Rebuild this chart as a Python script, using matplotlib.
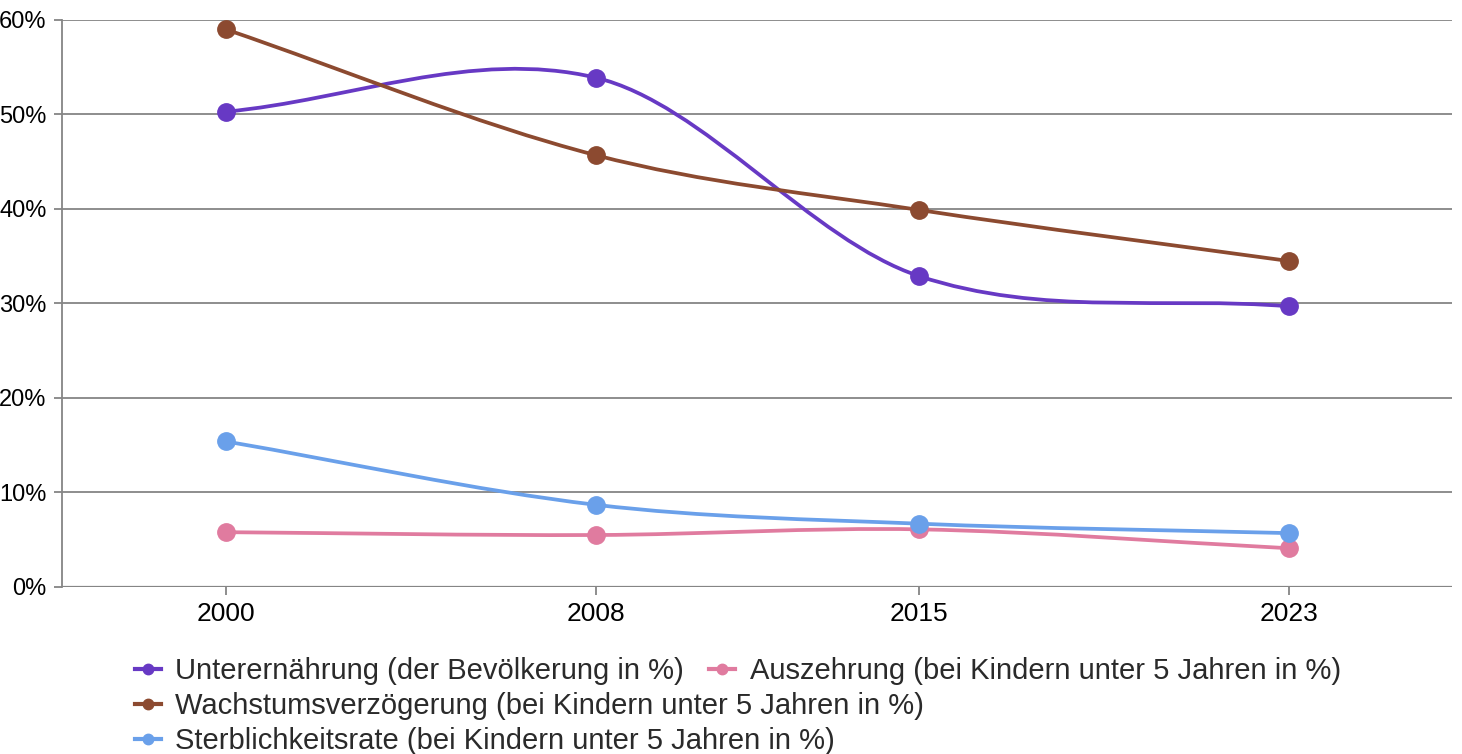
import matplotlib
matplotlib.use("Agg")
import matplotlib.pyplot as plt
import numpy as np
from matplotlib.path import Path
from matplotlib.patches import PathPatch
from matplotlib.lines import Line2D
from matplotlib.ticker import PercentFormatter

years = [2000, 2008, 2015, 2023]
unterernaehrung = [50.3, 53.9, 32.9, 29.7]
wachstum = [59.0, 45.7, 39.9, 34.5]
auszehrung = [5.8, 5.5, 6.1, 4.1]
sterblichkeit = [15.4, 8.7, 6.7, 5.7]

labels = [
    "Unterernährung (der Bevölkerung in %)",
    "Wachstumsverzögerung (bei Kindern unter 5 Jahren in %)",
    "Auszehrung (bei Kindern unter 5 Jahren in %)",
    "Sterblichkeitsrate (bei Kindern unter 5 Jahren in %)",
]
series = [unterernaehrung, wachstum, auszehrung, sterblichkeit]
colors = ["#6739c4", "#8c4a30", "#e07b9f", "#6aa0ea"]

plt.rcParams["font.family"] = ["Liberation Sans", "DejaVu Sans"]


def smooth_path(x, y):
    # cubic bezier through the points, tangents from neighbours
    x = np.asarray(x, float)
    y = np.asarray(y, float)
    n = len(x)
    m = np.zeros(n)
    for i in range(n):
        if i == 0:
            m[i] = (y[1] - y[0]) / (x[1] - x[0])
        elif i == n - 1:
            m[i] = (y[-1] - y[-2]) / (x[-1] - x[-2])
        else:
            m[i] = (y[i + 1] - y[i - 1]) / (x[i + 1] - x[i - 1])
    verts = [(x[0], y[0])]
    codes = [Path.MOVETO]
    for i in range(n - 1):
        dx = (x[i + 1] - x[i]) / 3
        verts += [(x[i] + dx, y[i] + m[i] * dx),
                  (x[i + 1] - dx, y[i + 1] - m[i + 1] * dx),
                  (x[i + 1], y[i + 1])]
        codes += [Path.CURVE4] * 3
    return Path(verts, codes)


fig = plt.figure(figsize=(14.62, 7.54), dpi=100)
ax = fig.add_axes([0.0424, 0.2215, 0.9506, 0.752])

handles = []
for vals, col, lab in zip(series, colors, labels):
    ax.add_patch(PathPatch(smooth_path(years, vals), fill=False,
                           edgecolor=col, lw=2.7, zorder=3,
                           capstyle="round"))
    ax.plot(years, vals, "o", color=col, ms=12.5, zorder=4)
    handles.append(Line2D([], [], color=col, lw=3, marker="o", ms=7.5))

ax.set_xlim(1996.45, 2026.53)
ax.set_ylim(0, 60)
ax.set_xticks(years)
ax.set_xticklabels([str(y) for y in years])
ax.set_yticks(range(0, 61, 10))
ax.yaxis.set_major_formatter(PercentFormatter(decimals=0))
ax.grid(axis="y", color="#858585", lw=1.3)
ax.set_axisbelow(True)
for s in ["top", "right", "bottom"]:
    ax.spines[s].set_visible(False)
ax.spines["left"].set_color("#858585")
ax.spines["left"].set_linewidth(1.3)
ax.axhline(0, color="#858585", lw=1.6, zorder=2)
ax.tick_params(axis="both", color="#858585", length=6, width=1.3,
               labelcolor="black", pad=5)
ax.tick_params(axis="x", labelsize=19)
ax.tick_params(axis="y", labelsize=17)

leg_kw = dict(frameon=False, fontsize=21, handlelength=0.9,
              handletextpad=0.5, borderaxespad=0, borderpad=0,
              labelcolor="#2a2a2a")
leg1 = fig.legend([handles[0], handles[2]], [labels[0], labels[2]],
                  loc="center left", bbox_to_anchor=(0.092, 1 - 671 / 754),
                  ncol=2, columnspacing=0.85, **leg_kw)
leg2 = fig.legend([handles[1]], [labels[1]], loc="center left",
                  bbox_to_anchor=(0.092, 1 - 706 / 754), **leg_kw)
leg3 = fig.legend([handles[3]], [labels[3]], loc="center left",
                  bbox_to_anchor=(0.092, 1 - 741 / 754), **leg_kw)

fig.savefig("out.png", dpi=100)
